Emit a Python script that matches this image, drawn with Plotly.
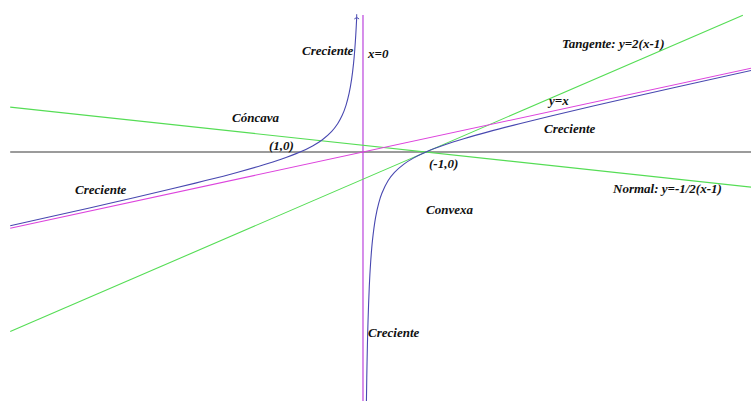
import plotly.graph_objects as go

# Curve f(x) = x - 1/x
left_x = [-5.6, -5.0, -4.0, -3.0, -2.5, -2.0, -1.6, -1.3, -1.0, -0.8, -0.65, -0.5, -0.4, -0.33, -0.27, -0.22, -0.18, -0.15, -0.13, -0.115, -0.1]
left_y = [-5.421, -4.8, -3.75, -2.667, -2.1, -1.5, -0.975, -0.531, 0.0, 0.45, 0.888, 1.5, 2.1, 2.700, 3.434, 4.325, 5.376, 6.517, 7.562, 8.581, 9.9]
right_x = [0.054, 0.06, 0.07, 0.08, 0.1, 0.12, 0.15, 0.2, 0.25, 0.3, 0.4, 0.5, 0.65, 0.8, 1.0, 1.3, 1.6, 2.0, 2.5, 3.0, 4.0, 5.0, 6.2]
right_y = [-18.46, -16.61, -14.216, -12.42, -9.9, -8.213, -6.517, -4.8, -3.75, -3.033, -2.1, -1.5, -0.888, -0.45, 0.0, 0.531, 0.975, 1.5, 2.1, 2.667, 3.75, 4.8, 6.039]

# Straight lines (endpoints)
asym_x = [-5.6, 6.2]
asym_y = [-5.6, 6.2]
tan_x = [-5.6, 6.03]
tan_y = [-13.2, 10.06]
norm_x = [-5.6, 6.2]
norm_y = [3.3, -2.6]
haxis_x = [-5.6, 6.2]
haxis_y = [0, 0]
vaxis_x = [0, 0]
vaxis_y = [-18.4, 10.07]

# Labels
label_text = ["Creciente", "x=0", "Cóncava", "(1,0)", "(-1,0)", "Creciente",
              "Tangente: y=2(x-1)", "y=x", "Creciente", "Normal: y=-1/2(x-1)",
              "Convexa", "Creciente"]
label_x = [-0.56, 0.24, -1.71, -1.29, 1.27, -4.16, 3.97, 3.10, 3.27, 4.83, 1.38, 0.49]
label_y = [7.50, 7.28, 2.57, 0.51, -0.81, -2.79, 8.01, 3.82, 1.76, -2.65, -4.26, -13.24]

BLUE = "#4848b0"
MAGENTA = "#dd44dd"
GREEN = "#55dd55"
GRAY = "#7a7a7a"
VIOLET = "#bb44dd"

fig = go.Figure()
fig.add_trace(go.Scatter(x=haxis_x, y=haxis_y, mode="lines", line=dict(color=GRAY, width=1.3)))
fig.add_trace(go.Scatter(x=vaxis_x, y=vaxis_y, mode="lines", line=dict(color=VIOLET, width=1.2)))
fig.add_trace(go.Scatter(x=norm_x, y=norm_y, mode="lines", line=dict(color=GREEN, width=1.1)))
fig.add_trace(go.Scatter(x=tan_x, y=tan_y, mode="lines", line=dict(color=GREEN, width=1.1)))
fig.add_trace(go.Scatter(x=asym_x, y=asym_y, mode="lines", line=dict(color=MAGENTA, width=1.1)))
fig.add_trace(go.Scatter(x=left_x, y=left_y, mode="lines", line=dict(color=BLUE, width=1.1, shape="spline")))
fig.add_trace(go.Scatter(x=right_x, y=right_y, mode="lines", line=dict(color=BLUE, width=1.1, shape="spline")))
fig.add_trace(go.Scatter(x=[left_x[-1]], y=[left_y[-1]], mode="markers",
                         marker=dict(symbol="y-up", size=4, line=dict(color=BLUE, width=1))))

for t, x, y in zip(label_text, label_x, label_y):
    fig.add_annotation(x=x, y=y, text="<b><i>" + t + "</i></b>", showarrow=False,
                       font=dict(family="Liberation Serif", size=13, color="#111111"))

fig.update_layout(
    width=751, height=401,
    margin=dict(l=0, r=0, t=0, b=0),
    paper_bgcolor="white", plot_bgcolor="white",
    showlegend=False,
    xaxis=dict(range=[-5.762, 6.159], visible=False, fixedrange=True),
    yaxis=dict(range=[-18.31, 11.18], visible=False, fixedrange=True),
)

fig.write_html("out.html", config={"displayModeBar": False},
               post_script="document.body.style.margin='0';document.body.style.overflow='hidden';")
